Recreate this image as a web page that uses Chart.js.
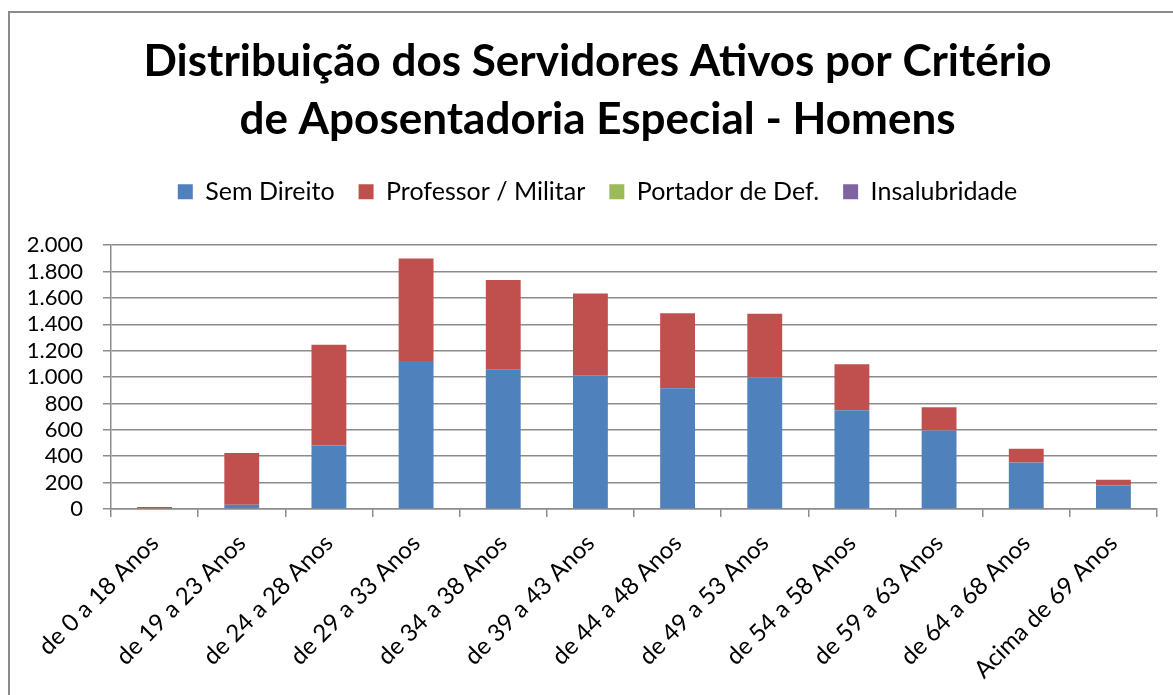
<!DOCTYPE html>
<html>
<head>
<meta charset="utf-8">
<script src="https://cdn.jsdelivr.net/npm/chart.js@4.4.0/dist/chart.umd.min.js"></script>
<style>
  html, body { margin: 0; padding: 0; background: #fff; overflow: hidden; }
  #moldura { position: absolute; left: 8px; top: 11px; width: 1300px; height: 800px; border: 2px solid #8c8c8c; box-sizing: border-box; }
  #caixa { position: absolute; left: 0; top: 0; width: 1173px; height: 695px; }
</style>
</head>
<body>
<div id="moldura"></div>
<div id="caixa"><canvas id="grafica"></canvas></div>
<script>
// faixas etarias
const faixas = [
  "de 0 a 18 Anos", "de 19 a 23 Anos", "de 24 a 28 Anos", "de 29 a 33 Anos",
  "de 34 a 38 Anos", "de 39 a 43 Anos", "de 44 a 48 Anos", "de 49 a 53 Anos",
  "de 54 a 58 Anos", "de 59 a 63 Anos", "de 64 a 68 Anos", "Acima de 69 Anos"
];

// valores
const semDireito       = [0, 33, 481, 1122, 1059, 1014, 916, 996, 749, 595, 353, 179];
const professorMilitar = [15, 391, 765, 777, 676, 620, 567, 484, 348, 177, 103, 43];
const portadorDef      = [0, 0, 0, 0, 0, 0, 0, 0, 0, 0, 0, 0];
const insalubridade    = [0, 0, 0, 0, 0, 0, 0, 0, 0, 0, 0, 0];

const marcasY = [0, 200, 400, 600, 800, 1000, 1200, 1400, 1600, 1800, 2000];

function formatar(v){
    return String(v).replace(/\B(?=(\d{3})+(?!\d))/g, ".");
}

const fonte = "Lato";
const cinza = "#8c8c8c";

// espaco extra abaixo da legenda
const espacoLegenda = {
    id: 'espacoLegenda',
    beforeInit(chart){
        const fitOriginal = chart.legend.fit;
        chart.legend.fit = function(){
            fitOriginal.bind(chart.legend)();
            this.height += 31;
        };
    }
};

var ctx = document.getElementById("grafica").getContext("2d");

new Chart(ctx, {
    type: 'bar',
    data: {
        labels: faixas,
        datasets: [
            { label: 'Sem Direito', data: semDireito, backgroundColor: '#4F81BD' },
            { label: 'Professor / Militar', data: professorMilitar, backgroundColor: '#C0504D' },
            { label: 'Portador de Def.', data: portadorDef, backgroundColor: '#9BBB59' },
            { label: 'Insalubridade', data: insalubridade, backgroundColor: '#8064A2' }
        ]
    },
    plugins: [espacoLegenda],
    options: {
        responsive: true,
        maintainAspectRatio: false,
        animation: false,
        layout: { padding: { left: 38, right: 16, top: 0, bottom: 0 } },
        datasets: { bar: { barPercentage: 0.4, categoryPercentage: 1.0 } },
        plugins: {
            title: {
                display: true,
                text: ['Distribuição dos Servidores Ativos por Critério', 'de Aposentadoria Especial - Homens'],
                color: '#000',
                font: { family: fonte, size: 44, weight: 'bold', lineHeight: 1.32 },
                padding: { top: 33, bottom: 6 }
            },
            legend: {
                display: true,
                labels: {
                    color: '#000',
                    font: { family: fonte, size: 25 },
                    boxWidth: 15,
                    boxHeight: 15,
                    padding: 24
                }
            },
            tooltip: { enabled: false }
        },
        scales: {
            x: {
                stacked: true,
                grid: { display: true, drawOnChartArea: false, color: cinza, lineWidth: 1.5, tickLength: 8 },
                border: { color: cinza, width: 1.5 },
                ticks: { color: '#000', font: { family: fonte, size: 24 }, minRotation: 45, maxRotation: 45, padding: 12, autoSkip: false },
                afterFit: function(escala){ escala.height = 186; }
            },
            y: {
                stacked: true,
                min: 0,
                max: 2000,
                grid: { color: cinza, lineWidth: 1.5, tickLength: 8 },
                border: { color: cinza, width: 1.5 },
                afterBuildTicks: function(escala){ escala.ticks = marcasY.map(v => ({ value: v })); },
                ticks: {
                    color: '#000',
                    font: { family: fonte, size: 22 },
                    padding: 20,
                    autoSkip: false,
                    callback: function(v){ return formatar(v); }
                },
                afterFit: function(escala){
                    escala.width = 73;
                    // nao cortar os rotulos que passam da largura do eixo
                    escala._computeLabelArea = function(){ return undefined; };
                }
            }
        }
    }
});
</script>
</body>
</html>
